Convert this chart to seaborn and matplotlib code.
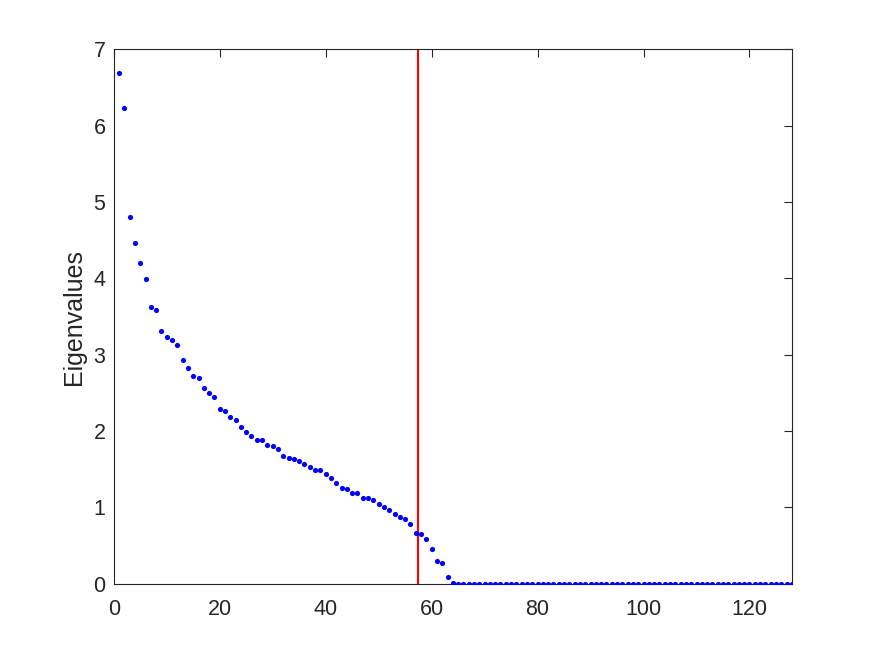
import matplotlib
matplotlib.use("Agg")
import matplotlib.pyplot as plt
import seaborn as sns
import pandas as pd

# eigenvalues, index 1..128
eigenvalues = [
    6.69, 6.23, 4.80, 4.46, 4.20, 3.99, 3.63, 3.59, 3.31, 3.23,
    3.19, 3.13, 2.93, 2.83, 2.72, 2.69, 2.57, 2.50, 2.45, 2.29,
    2.26, 2.19, 2.14, 2.05, 1.99, 1.94, 1.88, 1.88, 1.82, 1.80,
    1.76, 1.68, 1.65, 1.63, 1.61, 1.57, 1.53, 1.49, 1.49, 1.44,
    1.39, 1.32, 1.26, 1.24, 1.19, 1.19, 1.13, 1.13, 1.10, 1.04,
    1.00, 0.97, 0.91, 0.88, 0.85, 0.79, 0.67, 0.65, 0.59, 0.46,
    0.30, 0.27, 0.085, 0.005,
    0.0, 0.0, 0.0, 0.0, 0.0, 0.0, 0.0, 0.0, 0.0, 0.0, 0.0, 0.0, 0.0, 0.0, 0.0, 0.0,
    0.0, 0.0, 0.0, 0.0, 0.0, 0.0, 0.0, 0.0, 0.0, 0.0, 0.0, 0.0, 0.0, 0.0, 0.0, 0.0,
    0.0, 0.0, 0.0, 0.0, 0.0, 0.0, 0.0, 0.0, 0.0, 0.0, 0.0, 0.0, 0.0, 0.0, 0.0, 0.0,
    0.0, 0.0, 0.0, 0.0, 0.0, 0.0, 0.0, 0.0, 0.0, 0.0, 0.0, 0.0, 0.0, 0.0, 0.0, 0.0,
]
index = list(range(1, len(eigenvalues) + 1))
threshold = 57.5

x_ticks = [0, 20, 40, 60, 80, 100, 120]
y_ticks = [0, 1, 2, 3, 4, 5, 6, 7]

df = pd.DataFrame({"index": index, "eigenvalue": eigenvalues})

sns.set_theme(style="white")
plt.rcParams["font.family"] = ["Liberation Sans", "DejaVu Sans"]
edge = "#262626"
plt.rcParams.update({
    "axes.edgecolor": edge,
    "axes.linewidth": 0.8,
    "xtick.color": edge,
    "ytick.color": edge,
    "xtick.direction": "in",
    "ytick.direction": "in",
})

fig = plt.figure(figsize=(8.75, 6.56), dpi=100)
ax = fig.add_axes([0.13, 0.11, 0.775, 0.815])

sns.scatterplot(data=df, x="index", y="eigenvalue", ax=ax, color="#0000ff",
                s=14, linewidth=0, zorder=3)
ax.axvline(threshold, color="#ff0000", linewidth=1.5, zorder=2)

ax.set_xlim(0, 128)
ax.set_ylim(0, 7)
ax.set_xticks(x_ticks)
ax.set_yticks(y_ticks)
ax.tick_params(axis="both", which="both", labelsize=15.5, length=6, width=0.8,
               top=True, right=True)
ax.tick_params(axis="x", pad=11)
ax.tick_params(axis="y", pad=6)
for lbl in ax.get_xticklabels() + ax.get_yticklabels():
    lbl.set_color(edge)
ax.set_xlabel("")
ax.set_ylabel("Eigenvalues", fontsize=18, color=edge, labelpad=5)
for sp in ax.spines.values():
    sp.set_visible(True)

fig.savefig("out.png", dpi=100)
